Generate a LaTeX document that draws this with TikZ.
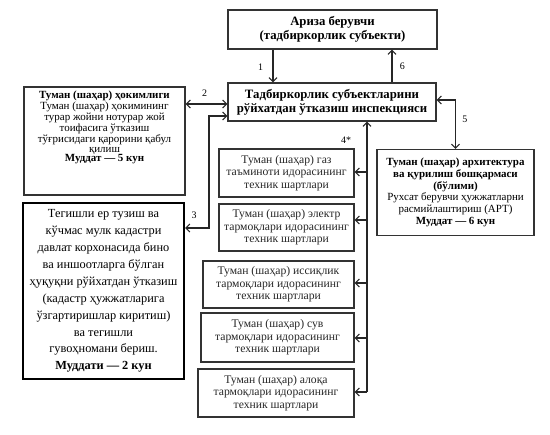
\documentclass[tikz,border=0pt]{standalone}
\usepackage{fontspec}
\setmainfont{Liberation Serif}
\usetikzlibrary{arrows.meta}

\begin{document}
\begin{tikzpicture}[x=1bp,y=-1bp,>={Straight Barb[length=4bp,width=8bp]},
  box/.style={draw=black!80,line width=1.3bp,align=center,inner sep=2bp,font=\fontsize{11}{11.8}\selectfont},
  smallbox/.style={box,text=black!85,font=\fontsize{11.7}{12.5}\selectfont},
  line/.style={draw=black!85,line width=1.1bp},
  num/.style={font=\fontsize{10}{10}\selectfont}]
\useasboundingbox (0,0) rectangle (550,435);
% main boxes
\node[box,minimum width=209bp,minimum height=39bp,font=\bfseries\fontsize{12.8}{14}\selectfont] (app) at (332.5,29.5) {Ариза берувчи\\(тадбиркорлик субъекти)};
\node[box,minimum width=208bp,minimum height=38bp,font=\bfseries\fontsize{12.8}{14}\selectfont] (insp) at (332,102) {Тадбиркорлик субъектларини\\рўйхатдан ўтказиш инспекцияси};
\node[box,minimum width=161bp,text height=73bp,text depth=31bp,font=\fontsize{11}{9.8}\selectfont] (hok) at (104.5,141) {\textbf{Туман (шаҳар) ҳокимлиги}\\Туман (шаҳар) ҳокимининг\\турар жойни нотурар жой\\тоифасига ўтказиш\\тўғрисидаги қарорини қабул\\қилиш\\\textbf{Муддат — 5 кун}};
\node[box,draw=black,line width=2bp,minimum width=161bp,minimum height=176bp,font=\fontsize{12.4}{17}\selectfont] (kad) at (103.5,291) {Тегишли ер тузиш ва\\кўчмас мулк кадастри\\давлат корхонасида бино\\ва иншоотларга бўлган\\ҳуқуқни рўйхатдан ўтказиш\\(кадастр ҳужжатларига\\ўзгартиришлар киритиш)\\ва тегишли\\гувоҳномани бериш.\\\textbf{Муддати — 2 кун}};
\node[box,minimum width=157bp,minimum height=86bp] (arch) at (455.5,192.5) {\textbf{Туман (шаҳар) архитектура}\\\textbf{ва қурилиш бошқармаси}\\\textbf{(бўлими)}\\Рухсат берувчи ҳужжатларни\\расмийлаштириш (АРТ)\\\textbf{Муддат — 6 кун}};
% technical conditions
\node[smallbox,minimum width=135bp,minimum height=48bp] (gas) at (286.5,173) {Туман (шаҳар) газ\\таъминоти идорасининг\\техник шартлари};
\node[smallbox,minimum width=135bp,minimum height=47bp] (elec) at (286.5,227.5) {Туман (шаҳар) электр\\тармоқлари идорасининг\\техник шартлари};
\node[smallbox,minimum width=151bp,minimum height=47bp] (heat) at (278.5,284.5) {Туман (шаҳар) иссиқлик\\тармоқлари идорасининг\\техник шартлари};
\node[smallbox,minimum width=153bp,minimum height=49bp] (water) at (277.5,337.5) {Туман (шаҳар) сув\\тармоқлари идорасининг\\техник шартлари};
\node[smallbox,minimum width=156bp,minimum height=48bp] (aloqa) at (276,393) {Туман (шаҳар) алоқа\\тармоқлари идорасининг\\техник шартлари};
% connectors
\coordinate (j3) at (209,228);
\coordinate (t4) at (367,392);
\draw[line,->] (app.south -| 273,0) -- (insp.north -| 273,0) node[num,midway,left=6bp,yshift=-1bp] {1};
\draw[line,->] (insp.north -| 392,0) -- (app.south -| 392,0) node[num,midway,right=4bp] {6};
\draw[line,<->] (hok.east |- 0,104) -- (insp.west |- 0,104) node[num,midway,above=4bp,xshift=-2bp] {2};
\draw[line,<->] (insp.west |- 0,116) -| (j3) -- (kad.east |- j3) node[num,midway,above=6bp,xshift=-3bp] {3};
\draw[line,<->] (insp.east |- 0,100) -| (arch.north) node[num,pos=0.7,right=3bp] {5};
\draw[line,->] (t4) -- (insp.south -| t4) node[num,pos=0.93,left=12bp] {4*};
\foreach \b/\y in {gas/172,elec/220,heat/283,water/338,aloqa/392} { \draw[line,->] (367,\y) -- (\b.east |- 0,\y); };
\end{tikzpicture}
\end{document}
